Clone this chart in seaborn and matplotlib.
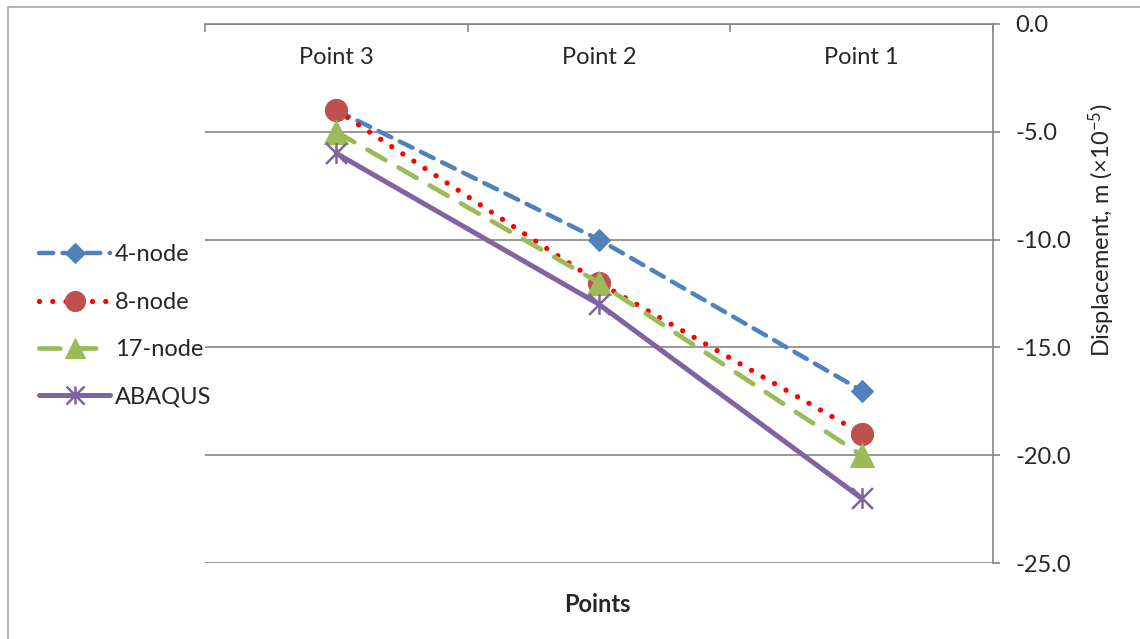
import matplotlib
matplotlib.use("Agg")
import matplotlib.pyplot as plt
import seaborn as sns
import numpy as np
import pandas as pd
from matplotlib.path import Path
from matplotlib.patches import Rectangle

categories = ["Point 3", "Point 2", "Point 1"]
series_names = ["4-node", "8-node", "17-node", "ABAQUS"]
node4 = [-4.0, -10.0, -17.0]
node8 = [-4.0, -12.0, -19.0]
node17 = [-5.0, -12.0, -20.0]
abaqus = [-6.0, -13.0, -22.0]
y_ticks = [0, -5, -10, -15, -20, -25]

sns.set_style("white")
plt.rcParams["font.family"] = ["Lato", "DejaVu Sans"]
plt.rcParams["mathtext.default"] = "regular"
plt.rcParams["axes.unicode_minus"] = False

FS = 17
GRAY = "#868686"

fig = plt.figure(figsize=(11.4, 6.39), dpi=100)
ax = fig.add_axes([205/1140, 1-563/639, (993-205)/1140, (563-24)/639])

pos = np.arange(len(categories))

star = Path([(0, -1), (0, 1), (-1, -1), (1, 1), (-1, 1), (1, -1)],
            [Path.MOVETO, Path.LINETO, Path.MOVETO, Path.LINETO, Path.MOVETO, Path.LINETO])

styles = {
    "4-node": dict(color="#4F81BD", linestyle=(0, (3.2, 2.1)), lw=3.2, marker="D", ms=11,
                   mfc="#4F81BD", mec="#4F81BD", dash_capstyle="round"),
    "8-node": dict(color="#FF0000", linestyle=(0, (0.01, 2.5)), lw=3.8, marker="o", ms=16,
                   mfc="#C0504D", mec="#C0504D", dash_capstyle="round"),
    "17-node": dict(color="#9BBB59", linestyle=(0, (4.4, 3.2)), lw=3.4, marker="^", ms=17,
                    mfc="#9BBB59", mec="#9BBB59", dash_capstyle="round"),
    "ABAQUS": dict(color="#8064A2", linestyle="-", lw=3.6, marker=star, ms=15,
                   mfc="none", mec="#8064A2", mew=1.8, solid_capstyle="round"),
}
legend_ms = {"4-node": 10.5, "8-node": 14.5, "17-node": 14.5, "ABAQUS": 13}
data = {"4-node": node4, "8-node": node8, "17-node": node17, "ABAQUS": abaqus}

for name in series_names:
    df = pd.DataFrame({"x": pos, "y": data[name]})
    sns.lineplot(data=df, x="x", y="y", ax=ax, label=name, legend=False, **styles[name])

if ax.get_legend() is not None:
    ax.get_legend().remove()

ax.set_xlim(-0.5, 2.5)
ax.set_ylim(-25, 0)
ax.set_xlabel("")
ax.set_ylabel("")

for s in ["left", "bottom"]:
    ax.spines[s].set_visible(False)
for s in ["top", "right"]:
    ax.spines[s].set_visible(True)
    ax.spines[s].set_color(GRAY)
    ax.spines[s].set_linewidth(1.2)

ax.xaxis.tick_top()
ax.set_xticks([-0.5, 0.5, 1.5, 2.5])
ax.tick_params(axis="x", top=True, bottom=False, labeltop=False, labelbottom=False,
               direction="in", length=6, width=1.2, color=GRAY)
ax.yaxis.tick_right()
ax.set_yticks(y_ticks)
ax.set_yticklabels([f"{v:.1f}" for v in y_ticks])
ax.tick_params(axis="y", right=True, left=False, labelright=True, labelleft=False,
               direction="out", length=5, width=1.2, color=GRAY, pad=11, labelsize=FS)
ax.yaxis.grid(True, color=GRAY, lw=1.2)
ax.xaxis.grid(False)
ax.set_axisbelow(True)

tr = ax.get_xaxis_transform()
for i, c in enumerate(categories):
    ax.text(i, (563-58)/(563-24), c, transform=tr, ha="center", va="center", fontsize=FS)

fig.text(597/1140, 1-604/639, "Points", ha="center", va="center", fontsize=FS, fontweight="bold")
fig.text(1102/1140, 1-230/639, r"Displacement, m (×10$^{-5}$)", rotation=90,
         ha="center", va="center", fontsize=FS)

handles, labels = ax.get_legend_handles_labels()
leg = fig.legend(handles, labels, loc="center left", bbox_to_anchor=(30/1140, 1-326/639),
                 frameon=False, fontsize=FS, handlelength=3.0, handletextpad=0.2,
                 labelspacing=1.12, borderaxespad=0)
for h, lab in zip(leg.legend_handles, labels):
    h.set_markersize(legend_ms[lab])

fig.patches.append(Rectangle((8/1140, -0.1), 1.2, 1 - 7/639 + 0.1, fill=False,
                             edgecolor="#A6A6A6", lw=1.2, transform=fig.transFigure))

fig.savefig("out.png", dpi=100)
